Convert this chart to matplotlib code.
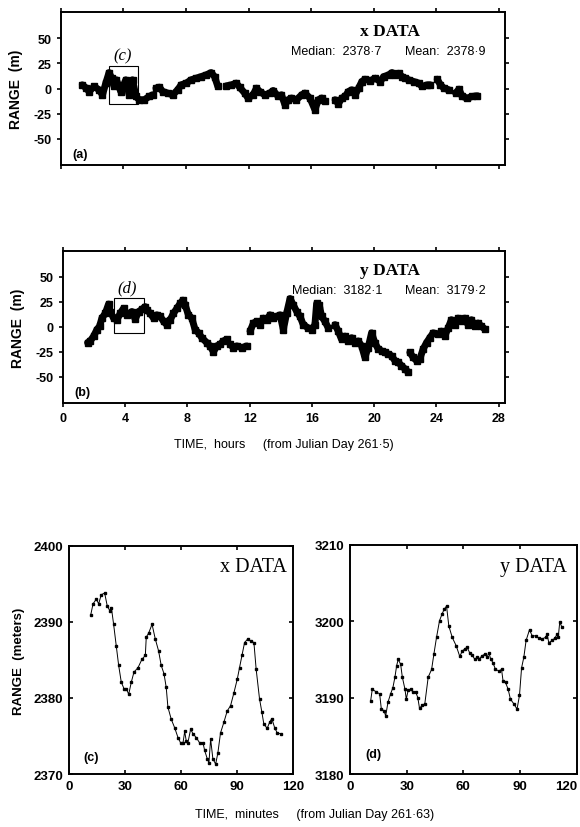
import numpy as np
import matplotlib
matplotlib.use("Agg")
from matplotlib import pyplot as plt
from matplotlib.patches import Rectangle

nan = np.nan

# panel (a): x data, hours from JD 261.5, range relative (m); nan = gap
a_hours = [1.37, 1.63, 1.80, 2.12, 2.44, 2.66, 2.87, 3.08, 3.25, 3.40, 3.55, 3.83, 4.15, 4.37,
           4.58, 4.80, 5.01, 5.33, 5.65, 5.87, nan,
           6.08, 6.30, 6.51, 6.83, 7.15, 7.47, 7.69, 8.01, 8.33, 8.65, 8.97, 9.29, 9.61, 9.83,
           10.04, nan,
           10.58, 10.90, 11.22, 11.43, 11.76, 11.97, 12.29, 12.51, 12.72, 13.04, 13.36, 13.58,
           13.90, 14.11, 14.33, 14.54, 14.75, 15.07, 15.40, 15.61, 15.93, 16.25, 16.47, 16.68,
           16.89, nan,
           17.54, 17.75, 17.97, 18.18, 18.39, 18.61, 18.82, 19.04, 19.25, 19.46, 19.79, 20.11,
           20.43, 20.64, 20.96, 21.18, 21.39, 21.61, 21.82, 22.03, 22.25, 22.57, 22.89, 23.10,
           23.43, 23.64, nan,
           24.07, 24.28, 24.50, 24.82, nan,
           25.25, 25.46, 25.67, 25.99, 26.32, 26.64]
a_range = [3.6, 0.3, -3.0, 2.0, -1.3, -6.3, 5.3, 15.8, 10.2, 2.0, 8.6, -3.0, 8.6, -6.3,
           8.6, -7.9, -11.2, -11.2, -7.9, -6.3, nan,
           0.3, 1.3, -3.0, -4.6, -6.3, -1.3, 3.6, 5.3, 8.6, 10.2, 11.8, 13.5, 15.8, 11.8,
           2.0, nan,
           2.6, 3.6, 5.3, 1.3, -4.6, -9.5, -6.3, 0.3, -3.0, -6.3, -4.6, -2.0,
           -7.9, -6.3, -16.1, -11.2, -9.5, -11.2, -6.3, -4.6, -9.5, -21.1, -11.2, -9.5,
           -12.8, nan,
           -11.2, -15.1, -9.5, -7.9, -3.0, -1.3, -6.3, 0.3, 6.9, 9.2, 7.9, 10.2,
           6.9, 11.8, 13.5, 15.8, 13.5, 15.1, 11.8, 10.2, 8.6, 6.9, 5.3, 2.0,
           3.6, 3.6, nan,
           9.2, 3.6, 0.3, -1.3, nan,
           -4.6, -0.7, -7.9, -9.5, -7.9, -7.2]

# panel (b): y data
b_hours = [1.58, 1.75, 1.97, 2.18, 2.35, 2.50, 2.72, 2.93, 3.04, 3.25, 3.47, 3.68, 3.89, 4.11,
           4.43, 4.64, 4.86, 5.07, 5.28, 5.39, 5.60, 5.82, 6.03, 6.25, 6.46, 6.67, 6.89, 7.10,
           7.32, 7.53, 7.70, 7.85, 8.06, 8.28, 8.49, 8.71, 8.92, 9.24, 9.45, 9.67, 9.88, 10.10,
           10.31, 10.52, nan,
           10.74, 10.95, 11.17, 11.49, 11.81, nan,
           12.02, 12.24, 12.45, 12.66, 12.88, 13.09, 13.30, 13.52, 13.73, 13.95, 14.16, 14.37,
           14.59, 14.80, 15.02, 15.23, 15.44, 15.76, 15.98, 16.19, 16.30, 16.47, 16.62, 16.83,
           17.05, nan,
           17.48, 17.69, 17.90, 18.12, 18.33, 18.55, 18.76, 18.97, 19.19, 19.40, 19.61, 19.83,
           20.04, 20.26, 20.47, 20.68, 20.90, 21.11, 21.33, 21.54, 21.75, 21.97, 22.18, nan,
           22.29, 22.50, 22.72, 22.93, 23.14, 23.36, 23.57, 23.79, 24.11, 24.32, 24.53, 24.75,
           24.96, 25.18, 25.39, 25.61, 25.82, 26.03, 26.25, 26.46, 26.67, 26.89, 27.10]
b_range = [-15.7, -14.0, -9.2, -2.6, 0.7, 8.8, 13.7, 22.9, 15.4, 8.8, 7.2, 13.7, 18.6, 12.1,
           15.4, 7.8, 15.4, 17.6, 20.3, 17.0, 13.7, 8.8, 12.1, 10.5, 5.6, 2.3, 7.2, 13.7,
           18.6, 23.5, 26.8, 21.9, 12.1, 8.8, -2.6, -5.9, -10.8, -15.7, -19.0, -24.8, -19.0, -17.3,
           -14.0, -12.4, nan,
           -17.3, -20.6, -19.0, -20.6, -19.0, nan,
           -4.2, 3.9, 5.6, 2.3, 8.8, 7.2, 12.1, 8.8, 10.5, 12.1, -2.6, 13.7,
           28.4, 21.9, 15.4, 10.5, 2.3, -1.0, -2.6, 2.3, 23.5, 21.9, 10.5, 5.6,
           -1.0, nan,
           2.3, -4.2, -12.4, -9.2, -14.0, -10.8, -15.7, -14.0, -19.0, -30.4, -20.6, -5.9,
           -15.7, -22.2, -23.9, -25.5, -27.1, -28.8, -33.7, -35.3, -38.6, -41.8, -45.1, nan,
           -25.5, -30.4, -33.7, -32.0, -22.2, -15.7, -10.8, -5.9, -7.5, -4.2, -9.2, -1.0,
           7.2, 2.3, 8.8, 5.6, 8.8, 2.3, 7.2, 0.7, 3.9, 0.7, -2.0]

# panel (c): x data, minutes from JD 261.63, range (meters)
c_minutes = [11.6, 12.9, 14.6, 15.9, 17.3, 19.1, 20.5, 21.8, 22.7, 23.9, 25.3, 26.6, 28.0, 29.5,
             30.7, 32.0, 33.4, 34.8, 37.0, 39.1, 40.9, 41.4, 42.8, 44.5, 46.2, 48.0, 49.4, 50.9,
             52.1, 53.0, 54.8, 56.6, 58.4, 59.8, 61.1, 62.0, 62.8, 63.7, 65.2, 66.4, 68.2, 70.0,
             71.8, 72.7, 74.1, 75.0, 75.9, 77.1, 78.6, 79.8, 81.2, 83.0, 84.8, 86.6, 88.4, 90.2,
             91.4, 92.7, 94.1, 95.9, 97.3, 99.1, 100.3, 102.1, 103.4, 104.4, 106.2, 107.5, 108.7,
             110.2, 111.6, 113.4]
c_range = [2390.9, 2392.4, 2393.0, 2392.4, 2393.6, 2393.8, 2392.1, 2391.5, 2391.9, 2389.7,
           2386.9, 2384.3, 2382.1, 2381.2, 2381.2, 2380.5, 2382.1, 2383.4, 2384.0, 2385.1,
           2385.6, 2388.0, 2388.6, 2389.7, 2387.8, 2386.2, 2384.3, 2383.2, 2381.4, 2378.8,
           2377.2, 2376.1, 2374.8, 2374.1, 2374.1, 2375.6, 2374.4, 2374.1, 2375.9, 2375.3,
           2374.8, 2374.1, 2374.1, 2373.1, 2372.0, 2371.5, 2374.6, 2372.0, 2371.3, 2372.8,
           2375.4, 2376.8, 2378.3, 2379.0, 2380.7, 2382.5, 2384.0, 2385.6, 2387.3, 2387.8,
           2387.5, 2387.3, 2383.8, 2379.9, 2378.1, 2376.6, 2376.0, 2376.8, 2377.3, 2376.1,
           2375.4, 2375.3]

# panel (d): y data
d_minutes = [10.9, 11.8, 13.6, 15.7, 16.6, 18.0, 18.9, 20.1, 21.5, 22.7, 23.8, 24.7, 25.5, 26.8,
             27.7, 29.1, 29.8, 30.8, 32.1, 33.5, 34.7, 35.9, 36.8, 38.2, 39.6, 41.4, 43.2, 44.4,
             45.8, 47.4, 48.8, 49.9, 51.1, 52.3, 54.1, 56.2, 58.1, 59.4, 60.8, 62.0, 63.3, 64.6,
             66.1, 67.3, 68.5, 69.9, 71.4, 72.6, 73.5, 74.4, 75.6, 77.0, 78.8, 80.2, 81.0, 82.3,
             83.7, 84.9, 86.7, 88.4, 89.7, 90.8, 92.0, 93.2, 95.0, 96.4, 98.2, 99.9, 101.7, 103.5,
             104.3, 105.2, 107.0, 108.4, 109.6, 110.2, 111.0, 112.2]
d_range = [3189.5, 3191.1, 3190.8, 3190.5, 3188.5, 3188.3, 3187.6, 3189.4, 3190.5, 3191.3,
           3192.7, 3194.2, 3195.0, 3194.4, 3192.7, 3191.1, 3189.8, 3191.0, 3191.1, 3190.7,
           3190.8, 3190.0, 3188.6, 3189.0, 3189.2, 3192.7, 3193.7, 3195.7, 3197.9, 3200.1,
           3201.0, 3201.6, 3202.0, 3199.4, 3197.9, 3196.8, 3195.4, 3196.1, 3196.4, 3196.6,
           3195.9, 3195.6, 3195.0, 3195.3, 3195.1, 3195.5, 3195.7, 3195.3, 3195.9, 3195.1,
           3194.6, 3193.7, 3193.5, 3193.7, 3192.2, 3192.0, 3191.1, 3189.8, 3189.2, 3188.5,
           3190.3, 3193.9, 3195.3, 3197.5, 3198.9, 3198.1, 3198.1, 3197.8, 3197.7, 3197.9,
           3198.3, 3197.2, 3197.5, 3197.8, 3198.3, 3197.9, 3199.9, 3199.2]

hour_ticks = [0, 4, 8, 12, 16, 20, 24, 28]
range_ticks = [-50, -25, 0, 25, 50]
minute_ticks = [0, 30, 60, 90, 120]
c_ticks = [2370, 2380, 2390, 2400]
d_ticks = [3180, 3190, 3200, 3210]

stats = {"a": ("x DATA", "2378\u00b77", "2378\u00b79"),
         "b": ("y DATA", "3182\u00b71", "3179\u00b72")}
boxes = {"a": (3.08, 4.95, -15.5, 22.0, "(c)"),
         "b": (3.25, 5.18, -6.5, 29.0, "(d)")}

SANS = "Liberation Sans"
SERIF = "Liberation Serif"
plt.rcParams["font.family"] = SANS
plt.rcParams["axes.unicode_minus"] = False

fig = plt.figure(figsize=(5.8, 8.28), dpi=100)
ax_a = fig.add_axes([0.105, 0.7995, 0.7655, 0.1848])
ax_b = fig.add_axes([0.1086, 0.5121, 0.762, 0.1836])
ax_c = fig.add_axes([0.119, 0.064, 0.386, 0.2754])
ax_d = fig.add_axes([0.6034, 0.064, 0.391, 0.2766])


def style(ax, direction):
    for s in ax.spines.values():
        s.set_linewidth(1.4)
    ax.tick_params(direction=direction, length=3, width=1.2, top=True, right=True,
                   labelsize=9)
    for lab in ax.get_xticklabels() + ax.get_yticklabels():
        lab.set_fontweight("bold")


for key, ax, t, r, tag in [("a", ax_a, a_hours, a_range, "(a)"),
                           ("b", ax_b, b_hours, b_range, "(b)")]:
    ax.plot(t, r, color="black", lw=5, solid_joinstyle="round", solid_capstyle="round")
    ax.plot(t, r, ls="none", marker="s", ms=4.5, mfc="black", mec="black")
    ax.set_xlim(0, 28.4)
    ax.set_ylim(-76, 76)
    ax.set_xticks(hour_ticks)
    ax.set_yticks(range_ticks)
    ax.set_ylabel("RANGE  (m)", fontsize=10, fontweight="bold", labelpad=8)
    x0, x1, y0, y1, lab = boxes[key]
    ax.add_patch(Rectangle((x0, y0), x1 - x0, y1 - y0, fill=False, lw=0.8, ec="black"))
    ax.text(x0 + 0.25, y1 + 3, lab, family=SERIF, style="italic", fontsize=12,
            ha="left", va="bottom")
    name, med, mean = stats[key]
    ax.text(0.74, 0.875, name, transform=ax.transAxes, family=SERIF, fontsize=12.5,
            fontweight="bold", ha="center", va="center")
    ax.text(0.518, 0.745, "Median:  " + med, transform=ax.transAxes, fontsize=9,
            ha="left", va="center")
    ax.text(0.774, 0.745, "Mean:  " + mean, transform=ax.transAxes, fontsize=9,
            ha="left", va="center")
    ax.text(0.025, 0.072, tag, transform=ax.transAxes, fontsize=9, fontweight="bold",
            ha="left", va="center")
    style(ax, "out")

ax_a.tick_params(labelbottom=False)
ax_b.set_xlabel("TIME,  hours     (from Julian Day 261\u00b75)", fontsize=9, labelpad=10)

for ax, t, r, yt, name, tag, nx, ny, tx, ty in [
        (ax_c, c_minutes, c_range, c_ticks, "x DATA", "(c)", 0.975, 0.912, 0.062, 0.075),
        (ax_d, d_minutes, d_range, d_ticks, "y DATA", "(d)", 0.958, 0.908, 0.066, 0.087)]:
    ax.plot(t, r, color="black", lw=0.7, marker="s", ms=1.6, mfc="black", mec="black")
    ax.set_xlim(0, 120)
    ax.set_ylim(yt[0], yt[-1])
    ax.set_xticks(minute_ticks)
    ax.set_yticks(yt)
    ax.text(nx, ny, name, transform=ax.transAxes, family=SERIF, fontsize=14.5,
            ha="right", va="center")
    ax.text(tx, ty, tag, transform=ax.transAxes, fontsize=9, fontweight="bold",
            ha="left", va="center")
    style(ax, "in")
    ax.tick_params(labelsize=9.5, pad=4)

# keep the last minute label of (d) inside the figure, as in the reference
ax_d.get_xticklabels()[-1].set_horizontalalignment("right")

ax_c.set_ylabel("RANGE  (meters)", fontsize=9.5, fontweight="bold", labelpad=6)
fig.text(0.543, 0.0157, "TIME,  minutes     (from Julian Day 261\u00b763)", fontsize=9,
         ha="center", va="center")

fig.savefig("out.png", dpi=100)
